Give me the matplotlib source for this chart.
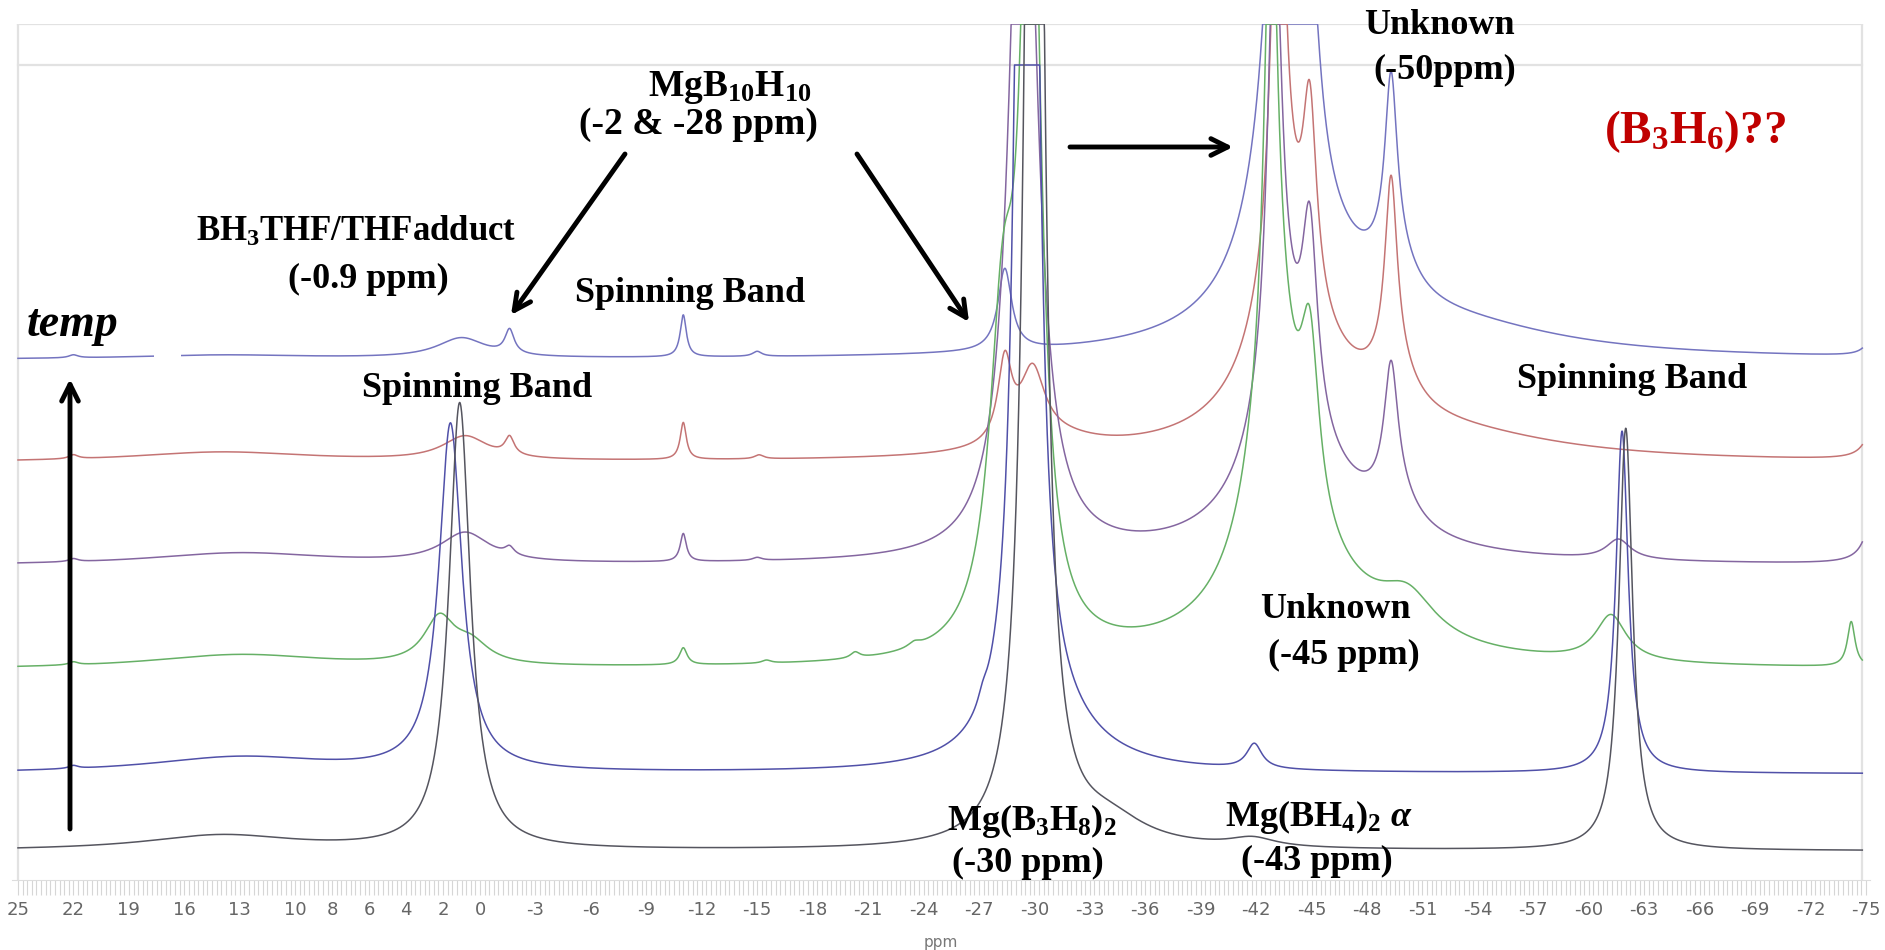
import numpy as np
import matplotlib
matplotlib.use("Agg")
import matplotlib.pyplot as plt
from matplotlib.patches import Rectangle

# 11B MAS NMR stack, chemical shift in ppm
tick_ppm = [25, 22, 19, 16, 13, 10, 8, 6, 4, 2, 0] + list(range(-3, -76, -3))
tick_labels = [str(t) for t in tick_ppm]

# each spectrum: vertical offset and its lines as (shift ppm, height, half width ppm)
offsets = [520, 417, 314, 210, 106, 29]
colors = ["#7474c0", "#c47474", "#8466a0", "#66b066", "#5050a8", "#55555f"]
caps = [856, 856, 856, 856, 815, 856]

lines_1 = [(22.0, 3, 0.3), (14.0, 4, 6.0), (1.0, 20, 1.6), (-1.6, 24, 0.3),
           (-11.0, 42, 0.2), (-15.0, 5, 0.3), (-28.4, 82, 0.45),
           (-43.2, 400, 0.6), (-43.5, 200, 1.8), (-44.9, 200, 0.6),
           (-45.2, 60, 4.5), (-49.3, 175, 0.4), (-49.5, 40, 1.3),
           (-53.2, 22, 7.0), (-75.5, 30, 0.4)]
lines_2 = [(22.0, 4, 0.3), (14.0, 10, 6.0), (0.8, 24, 1.5), (-1.6, 18, 0.3),
           (-11.0, 37, 0.2), (-15.1, 4, 0.3), (-28.4, 80, 0.45),
           (-29.9, 70, 0.8), (-31.0, 15, 3.0), (-43.2, 500, 0.4),
           (-43.5, 150, 1.8), (-44.9, 190, 0.45), (-45.2, 60, 4.5),
           (-49.3, 185, 0.4), (-49.5, 40, 1.3), (-53.2, 17, 7.0),
           (-75.6, 60, 0.45)]
lines_3 = [(22.0, 3, 0.3), (13.0, 12, 6.0), (0.8, 30, 1.6), (-1.6, 8, 0.3),
           (-11.0, 28, 0.2), (-15.0, 3, 0.3), (-29.4, 900, 0.8),
           (-43.0, 450, 0.45), (-43.4, 150, 1.8), (-44.9, 190, 0.5),
           (-45.2, 55, 4.5), (-49.3, 128, 0.45), (-49.6, 30, 1.3),
           (-61.6, 20, 0.8), (-75.6, 90, 0.45)]
lines_4 = [(22.0, 3, 0.3), (13.0, 14, 6.0), (2.2, 45, 1.0), (0.5, 20, 1.2),
           (-11.0, 17, 0.25), (-15.5, 3, 0.3), (-20.3, 6, 0.3), (-23.5, 5, 0.4),
           (-28.3, 300, 0.9), (-29.8, 900, 0.6), (-42.8, 500, 0.4),
           (-43.0, 250, 1.6), (-44.9, 170, 0.6), (-44.7, 65, 5.0),
           (-50.2, 40, 1.8), (-61.2, 46, 1.0), (-74.2, 45, 0.25)]
lines_5 = [(22.0, 3, 0.3), (13.0, 16, 6.0), (1.6, 347, 0.75), (-27.2, 10, 0.3),
           (-29.6, 3600, 0.33), (-31.0, 40, 3.0), (-41.9, 25, 0.5),
           (-61.8, 342, 0.4)]
lines_6 = [(14.0, 15, 5.0), (1.1, 446, 0.7), (-30.0, 2000, 0.45),
           (-34.0, 25, 2.5), (-41.8, 9, 1.5), (-62.0, 422, 0.45)]
spectra = [lines_1, lines_2, lines_3, lines_4, lines_5, lines_6]


def lorentz(x, pos, height, hw):
    return height * hw ** 2 / ((x - pos) ** 2 + hw ** 2)


fig = plt.figure(figsize=(18.85, 9.5), dpi=100)
W, H = 1885, 950
x_left, x_right = 25.35, -75.2
px_left = 480 - 18.48 * x_left
px_right = 480 - 18.48 * x_right
ax = fig.add_axes([px_left / W, (H - 880) / H, (px_right - px_left) / W, (880 - 24) / H])
ax.set_xlim(x_left, x_right)
ax.set_ylim(0, 856)

ppm_hi, ppm_lo = 25.0, -74.8
ppm = np.linspace(ppm_hi, ppm_lo, 8000)
for off, col, cap, pk in zip(offsets, colors, caps, spectra):
    y = np.full_like(ppm, off, dtype=float)
    for pos, h, hw in pk:
        y += lorentz(ppm, pos, h, hw)
    ax.plot(ppm, np.minimum(y, cap), color=col, lw=1.1, zorder=3)

# light frame
frame = "#e2e2e2"
ax.plot([ppm_hi, ppm_lo], [856, 856], color=frame, lw=1.6, zorder=1)
ax.plot([ppm_hi, ppm_lo], [815, 815], color=frame, lw=1.6, zorder=1)
ax.plot([ppm_hi, ppm_hi], [0, 856], color=frame, lw=1.6, zorder=1)
ax.plot([ppm_lo, ppm_lo], [0, 856], color=frame, lw=1.6, zorder=1)

for s in ["top", "left", "right"]:
    ax.spines[s].set_visible(False)
ax.spines["bottom"].set_color("#dddddd")
ax.set_yticks([])
ax.set_xticks(tick_ppm)
ax.set_xticklabels(tick_labels, family=["Liberation Sans Narrow", "DejaVu Sans"],
                   fontsize=13, color="#666666")
ax.set_xticks(np.arange(-75, 25.01, 0.25), minor=True)
ax.tick_params(axis="x", which="both", direction="out", length=11, color="#d6d6d6", width=0.8, pad=4)
ax.set_xlabel("ppm", family=["Liberation Sans Narrow", "DejaVu Sans"], fontsize=11,
              color="#777777", labelpad=12)

# white patch behind the temperature label
fig.patches.append(Rectangle((154, H - 375), 27, 45, transform=None,
                             facecolor="white", edgecolor="none", zorder=5))

plt.rcParams["mathtext.fontset"] = "custom"
plt.rcParams["mathtext.rm"] = "Liberation Serif:bold"
plt.rcParams["mathtext.it"] = "Liberation Serif:bold:italic"
plt.rcParams["mathtext.bf"] = "Liberation Serif:bold"
plt.rcParams["mathtext.default"] = "rm"


def label(xp, yp, s, size=26, color="black", style="normal"):
    fig.text(xp / W, 1 - yp / H, s, ha="center", va="center", fontsize=size,
             fontweight="bold", family="Liberation Serif", color=color,
             fontstyle=style, zorder=6)


label(730, 87, r"MgB$_{10}$H$_{10}$", 27)
label(698, 124, "(-2 & -28 ppm)", 27)
label(356, 232, r"BH$_3$THF/THFadduct", 25)
label(368, 279, "(-0.9 ppm)")
label(690, 294, "Spinning Band")
label(72, 325, "temp", 33, style="italic")
label(477, 388, "Spinning Band")
label(1439, 26, "Unknown")
label(1445, 70, "(-50ppm)")
label(1695, 132, r"(B$_3$H$_6$)??", 34, color="#c00000")
label(1632, 380, "Spinning Band")
label(1335, 609, "Unknown")
label(1344, 655, "(-45 ppm)")
label(1032, 821, r"Mg(B$_3$H$_8$)$_2$")
label(1028, 863, "(-30 ppm)")
label(1319, 817, r"Mg(BH$_4$)$_2$ $\mathit{\alpha}$")
label(1317, 861, "(-43 ppm)")

arrows = [((625, 154), (511, 315)), ((857, 154), (969, 322)),
          ((1070, 147), (1233, 147)), ((70, 829), (70, 379))]
for (x0, y0), (x1, y1) in arrows:
    ax.annotate("", xy=(x1, H - y1), xytext=(x0, H - y0),
                xycoords="figure pixels", textcoords="figure pixels",
                arrowprops=dict(arrowstyle="->", lw=3.5, color="black",
                                mutation_scale=30, shrinkA=0, shrinkB=0),
                annotation_clip=False, zorder=7)

fig.savefig("out.png", dpi=100, facecolor="white")
